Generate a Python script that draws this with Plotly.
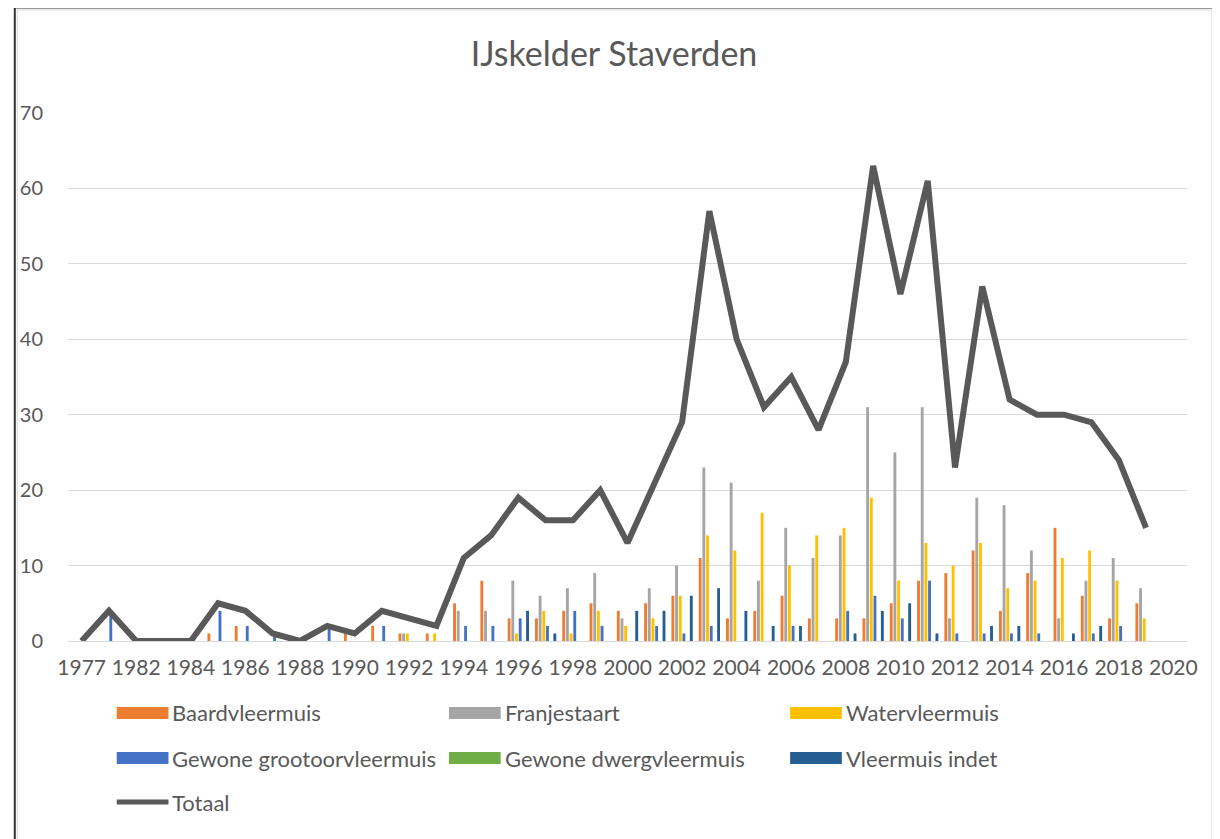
import plotly.graph_objects as go

years = ["1977", "1980", "1982", "1983", "1984", "1985", "1986", "1987", "1988", "1989",
         "1990", "1991", "1992", "1993", "1994", "1995", "1996", "1997", "1998", "1999",
         "2000", "2001", "2002", "2003", "2004", "2005", "2006", "2007", "2008", "2009",
         "2010", "2011", "2012", "2013", "2014", "2015", "2016", "2017", "2018", "2019", "2020"]

baardvleermuis = [0, 0, 0, 0, 0, 1, 2, 0, 0, 0, 1, 2, 1, 1, 5, 8, 3, 3, 4, 5,
                  4, 5, 6, 11, 3, 4, 6, 3, 3, 3, 5, 8, 9, 12, 4, 9, 15, 6, 3, 5, None]
franjestaart = [0, 0, 0, 0, 0, 0, 0, 0, 0, 0, 0, 0, 1, 0, 4, 4, 8, 6, 7, 9,
                3, 7, 10, 23, 21, 8, 15, 11, 14, 31, 25, 31, 3, 19, 18, 12, 3, 8, 11, 7, None]
watervleermuis = [0, 0, 0, 0, 0, 0, 0, 0, 0, 0, 0, 0, 1, 1, 0, 0, 1, 4, 1, 4,
                  2, 3, 6, 14, 12, 17, 10, 14, 15, 19, 8, 13, 10, 13, 7, 8, 11, 12, 8, 3, None]
grootoorvleermuis = [0, 4, 0, 0, 0, 4, 2, 1, 0, 2, 0, 2, 0, 0, 2, 2, 3, 2, 4, 2,
                     0, 2, 1, 2, 0, 0, 2, 0, 4, 6, 3, 8, 1, 1, 1, 1, 0, 1, 2, 0, None]
dwergvleermuis = [0, 0, 0, 0, 0, 0, 0, 0, 0, 0, 0, 0, 0, 0, 0, 0, 0, 0, 0, 0,
                  0, 0, 0, 0, 0, 0, 0, 0, 0, 0, 0, 0, 0, 0, 0, 0, 0, 0, 0, 0, None]
vleermuis_indet = [0, 0, 0, 0, 0, 0, 0, 0, 0, 0, 0, 0, 0, 0, 0, 0, 4, 1, 0, 0,
                   4, 4, 6, 7, 4, 2, 2, 0, 1, 4, 5, 1, 0, 2, 2, 0, 1, 2, 0, 0, None]
totaal = [0, 4, 0, 0, 0, 5, 4, 1, 0, 2, 1, 4, 3, 2, 11, 14, 19, 16, 16, 20,
          13, 21, 29, 57, 40, 31, 35, 28, 37, 63, 46, 61, 23, 47, 32, 30, 30, 29, 24, 15, None]

series_names = ["Baardvleermuis", "Franjestaart", "Watervleermuis",
                "Gewone grootoorvleermuis", "Gewone dwergvleermuis", "Vleermuis indet"]
series_values = [baardvleermuis, franjestaart, watervleermuis,
                 grootoorvleermuis, dwergvleermuis, vleermuis_indet]
series_colors = ["#ED7D31", "#A5A5A5", "#FFC000", "#4472C4", "#70AD47", "#255E91"]
line_name = "Totaal"
line_color = "#595959"

title_text = "IJskelder Staverden"
tick_labels = years[0::2]
y_ticks = [0, 10, 20, 30, 40, 50, 60, 70]

FONT = "Lato"
TXT = "#595959"
OFF = 8  # page body margin
W, H = 1212, 831
L, T = 62 - OFF, 113 - OFF
pw, ph = 1125, 528
R = W - L - pw
B = H - T - ph


def px2x(px):
    return (px - OFF - L) / pw


def py2y(py):
    return (T + ph - (py - OFF)) / ph


fig = go.Figure()
for name, vals, col in zip(series_names, series_values, series_colors):
    fig.add_trace(go.Bar(x=years, y=vals, name=name, marker=dict(color=col, line=dict(width=0)),
                         showlegend=False))
fig.add_trace(go.Scatter(x=years, y=totaal, name=line_name, mode="lines",
                         line=dict(color=line_color, width=6), connectgaps=False, showlegend=False))

shapes = []
annotations = []
# frame
shapes.append(dict(type="rect", xref="paper", yref="paper",
                   x0=px2x(11), x1=px2x(1212), y0=py2y(860), y1=py2y(10),
                   line=dict(color="#D9D9D9", width=1), layer="below"))
shapes.append(dict(type="rect", xref="paper", yref="paper",
                   x0=px2x(8.5), x1=px2x(1215), y0=py2y(860), y1=py2y(7.5),
                   line=dict(color="#333333", width=2), layer="above"))

# legend (manual, 3 columns)
col_x = [111, 445, 788]
row_y = [713, 758, 802]
entries = list(zip(series_names, series_colors)) + [(line_name, line_color)]
for i, (name, col) in enumerate(entries):
    r, c = divmod(i, 3)
    x0 = col_x[c]
    yc = row_y[r]
    if name == line_name:
        shapes.append(dict(type="line", xref="paper", yref="paper",
                           x0=px2x(x0), x1=px2x(x0 + 52), y0=py2y(yc), y1=py2y(yc),
                           line=dict(color=col, width=5)))
    else:
        shapes.append(dict(type="rect", xref="paper", yref="paper",
                           x0=px2x(x0), x1=px2x(x0 + 52), y0=py2y(yc + 6), y1=py2y(yc - 6),
                           fillcolor=col, line=dict(width=0)))
    annotations.append(dict(text=name, xref="paper", yref="paper", x=px2x(x0 + 54), y=py2y(yc),
                            xanchor="left", yanchor="middle", showarrow=False,
                            font=dict(family=FONT, size=22, color=TXT)))

fig.update_layout(
    width=W, height=H,
    margin=dict(l=L, r=R, t=T, b=B),
    paper_bgcolor="white", plot_bgcolor="white",
    barmode="group", bargap=0.19, bargroupgap=0.22,
    title=dict(text=title_text, x=0.5, xanchor="center", y=1 - (54 - OFF) / H, yanchor="middle",
               font=dict(family=FONT, size=34, color=TXT)),
    xaxis=dict(type="category", tickmode="array", tickvals=tick_labels, ticktext=tick_labels,
               tickfont=dict(family=FONT, size=21, color=TXT), showgrid=False,
               showline=True, linecolor="#D9D9D9", linewidth=1, ticks="", tickangle=0,
               ticklabelstandoff=8, range=[-0.5, len(years) - 0.5]),
    yaxis=dict(range=[0, 70], tickvals=y_ticks, tickfont=dict(family=FONT, size=20, color=TXT),
               showgrid=True, gridcolor="#D9D9D9", gridwidth=1, zeroline=False, showline=False,
               ticks="", ticklabelstandoff=24),
    shapes=shapes, annotations=annotations,
    font=dict(family=FONT, color=TXT),
)

fig.write_html("out.html")
